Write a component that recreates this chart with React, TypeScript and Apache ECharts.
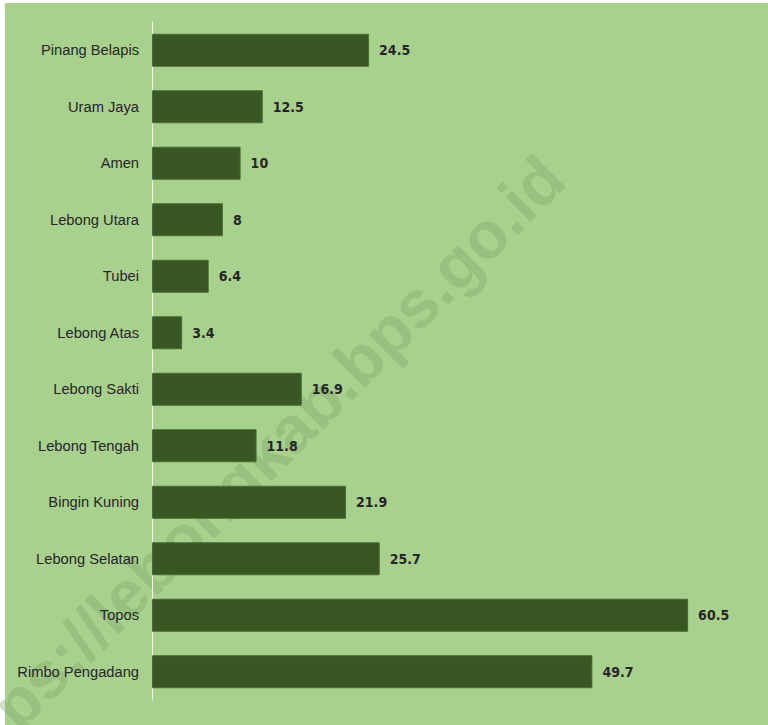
import React, { useEffect, useRef } from "react";
import * as echarts from "echarts";

const categories = [
  "Pinang Belapis",
  "Uram Jaya",
  "Amen",
  "Lebong Utara",
  "Tubei",
  "Lebong Atas",
  "Lebong Sakti",
  "Lebong Tengah",
  "Bingin Kuning",
  "Lebong Selatan",
  "Topos",
  "Rimbo Pengadang",
];
const values = [24.5, 12.5, 10, 8, 6.4, 3.4, 16.9, 11.8, 21.9, 25.7, 60.5, 49.7];
const watermark = "https://lebongkab.bps.go.id";

export default function App() {
  const ref = useRef<HTMLDivElement>(null);
  useEffect(() => {
    if (!ref.current) return;
    const chart = echarts.init(ref.current, null, { renderer: "svg" });
    chart.setOption({
      animation: false,
      backgroundColor: "#ffffff",
      graphic: [
        {
          type: "rect",
          z: -10,
          shape: { x: 5, y: 3, width: 763, height: 722 },
          style: { fill: "#a9d18e" },
          silent: true,
        },
        {
          type: "text",
          z: -5,
          x: 248,
          y: 472,
          rotation: Math.PI / 4,
          style: {
            text: watermark,
            font: "bold 66px 'Liberation Sans', Arial, sans-serif",
            fill: "rgba(120,160,100,0.35)",
            textAlign: "center",
            textVerticalAlign: "middle",
          },
          silent: true,
        },
      ],
      grid: { left: 152, top: 22, height: 678, right: 40, containLabel: false },
      xAxis: {
        type: "value",
        min: 0,
        max: 65,
        show: false,
      },
      yAxis: {
        type: "category",
        data: categories,
        inverse: true,
        axisLine: { show: true, lineStyle: { color: "#eef5e8", width: 1 } },
        axisTick: { show: false },
        axisLabel: {
          margin: 13,
          fontSize: 14.7,
          fontFamily: "'Liberation Sans', Arial, sans-serif",
          color: "#262626",
        },
      },
      series: [
        {
          type: "bar",
          data: values,
          barWidth: 33,
          itemStyle: { color: "#385723", borderColor: "#4a6b34", borderWidth: 1 },
          label: {
            show: true,
            position: "right",
            distance: 10,
            fontSize: 14,
            fontWeight: "bold",
            fontFamily: "'DejaVu Sans Condensed', 'DejaVu Sans', sans-serif",
            color: "#262626",
          },
        },
      ],
    });
    return () => chart.dispose();
  }, []);
  return (
    <div
      ref={ref}
      style={{ position: "absolute", left: 0, top: 0, width: 768, height: 725 }}
    />
  );
}
